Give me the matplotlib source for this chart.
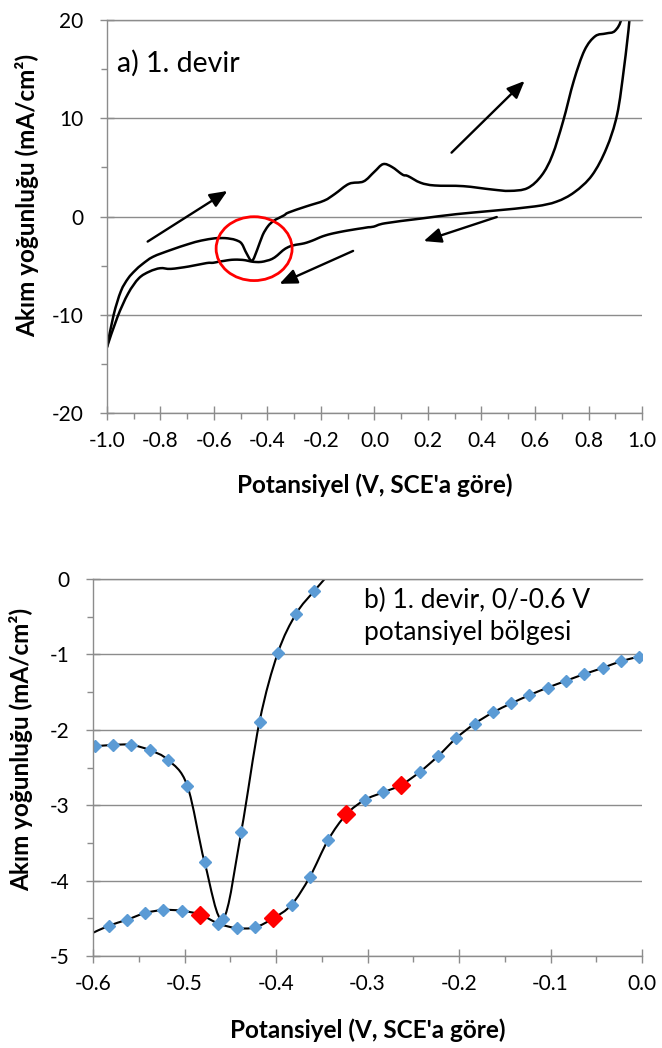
# -*- coding: utf-8 -*-
import numpy as np
import matplotlib
matplotlib.use('Agg')
import matplotlib.pyplot as plt
from matplotlib.path import Path
from matplotlib.patches import PathPatch, Ellipse
from matplotlib.ticker import FixedLocator, MultipleLocator

plt.rcParams['font.family'] = ['Lato', 'DejaVu Sans']

# --- b) 1. devir, 0/-0.6 V bolgesi (read off the picture) ---
fwd_b_x = [-0.598, -0.578, -0.558, -0.538, -0.518, -0.497, -0.478, -0.458,
           -0.438, -0.418, -0.398, -0.378, -0.358, -0.338]
fwd_b_y = [-2.22, -2.20, -2.20, -2.27, -2.40, -2.74, -3.76, -4.51,
           -3.35, -1.89, -0.98, -0.46, -0.155, 0.12]
rev_b_x = [-0.003, -0.023, -0.043, -0.063, -0.083, -0.103, -0.123, -0.143,
           -0.163, -0.183, -0.203, -0.223, -0.243, -0.263, -0.283, -0.303,
           -0.323, -0.343, -0.363, -0.383, -0.403, -0.423, -0.443, -0.463,
           -0.483, -0.503, -0.523, -0.543, -0.563, -0.583, -0.603]
rev_b_y = [-1.03, -1.09, -1.18, -1.26, -1.35, -1.44, -1.54, -1.65,
           -1.77, -1.92, -2.11, -2.35, -2.56, -2.73, -2.83, -2.93,
           -3.12, -3.46, -3.95, -4.32, -4.50, -4.62, -4.63, -4.57,
           -4.45, -4.40, -4.39, -4.43, -4.52, -4.60, -4.71]
red_b_x = [-0.483, -0.403, -0.323, -0.263]
red_b_y = [-4.45, -4.50, -3.12, -2.73]

# --- a) 1. devir, full window; middle part shared with panel b ---
fwd_lo_x = [-1.0, -0.975, -0.948, -0.921, -0.895, -0.868, -0.828, -0.761,
            -0.695, -0.648]
fwd_lo_y = [-13.3, -10.0, -7.6, -6.3, -5.5, -4.85, -4.1, -3.4, -2.8, -2.45]
fwd_hi_x = [-0.321, -0.255, -0.188, -0.148, -0.095, -0.041, -0.001, 0.032,
            0.065, 0.105, 0.125, 0.172, 0.225, 0.332, 0.439, 0.505, 0.572,
            0.625, 0.665, 0.705, 0.745, 0.785, 0.825, 0.865, 0.899, 0.925,
            0.945]
fwd_hi_y = [0.41, 1.03, 1.62, 2.30, 3.33, 3.57, 4.54, 5.33,
            5.05, 4.26, 4.12, 3.44, 3.16, 3.09, 2.75, 2.61, 2.89,
            4.19, 6.25, 9.69, 13.81, 16.91, 18.35, 18.63, 18.9, 20.3,
            24.0]
rev_hi_x = [0.958, 0.953, 0.933, 0.907, 0.867, 0.813, 0.747, 0.680, 0.600,
            0.440, 0.306, 0.173, 0.039]
rev_hi_y = [23.0, 20.0, 15.19, 10.38, 6.94, 4.19, 2.47, 1.51, 1.03,
            0.58, 0.24, -0.21, -0.69]
rev_lo_x = [-0.628, -0.695, -0.761, -0.801, -0.841, -0.881, -0.921, -0.961,
            -1.0]
rev_lo_y = [-4.74, -5.09, -5.33, -5.26, -5.60, -6.29, -7.84, -10.24, -13.3]

xticks_a = [-1.0, -0.8, -0.6, -0.4, -0.2, 0.0, 0.2, 0.4, 0.6, 0.8, 1.0]
yticks_a = [-20, -10, 0, 10, 20]
xticks_b = [-0.6, -0.5, -0.4, -0.3, -0.2, -0.1, 0.0]
yticks_b = [-5, -4, -3, -2, -1, 0]

GRAY = '#8c8c8c'
BLUE = '#5b9bd5'


def smooth_path(x, y):
    # Excel-like smoothed line: Catmull-Rom segments as cubic Bezier curves
    p = np.column_stack([x, y]).astype(float)
    ext = np.vstack([p[0], p, p[-1]])
    verts = [p[0]]
    codes = [Path.MOVETO]
    for i in range(1, len(ext) - 2):
        p0, p1, p2, p3 = ext[i - 1], ext[i], ext[i + 1], ext[i + 2]
        verts += [p1 + (p2 - p0) / 6.0, p2 - (p3 - p1) / 6.0, p2]
        codes += [Path.CURVE4] * 3
    return Path(verts, codes)


def style_axes(ax, xticks, xminor, yticks, yminor):
    ax.set_xlim(xticks[0], xticks[-1])
    ax.set_ylim(yticks[0], yticks[-1])
    ax.xaxis.set_major_locator(FixedLocator(xticks))
    ax.yaxis.set_major_locator(FixedLocator(yticks))
    ax.xaxis.set_minor_locator(MultipleLocator(xminor))
    ax.yaxis.set_minor_locator(MultipleLocator(yminor))
    ax.set_xticklabels(['%.1f' % v for v in xticks])
    ax.set_yticklabels(['%d' % v for v in yticks])
    ax.spines['right'].set_visible(False)
    for s in ['left', 'bottom', 'top']:
        ax.spines[s].set_color(GRAY)
        ax.spines[s].set_linewidth(1.0)
    ax.grid(axis='y', which='major', color=GRAY, lw=1.0)
    ax.set_axisbelow(True)
    ax.tick_params(which='major', direction='inout', length=10, width=1,
                   color=GRAY, labelsize=15, labelcolor='black')
    ax.tick_params(axis='y', which='major', pad=12)
    ax.tick_params(axis='x', which='major', pad=8)
    ax.tick_params(which='minor', direction='out', length=4.5, width=1,
                   color=GRAY)


fig = plt.figure(figsize=(6.62, 10.48), dpi=100)

# ---------------- panel a ----------------
ax = fig.add_axes([0.1616, 0.6059, 0.8082, 0.375])
style_axes(ax, xticks_a, 0.1, yticks_a, 5)

fwd_a_x = fwd_lo_x + fwd_b_x + fwd_hi_x
fwd_a_y = fwd_lo_y + fwd_b_y + fwd_hi_y
rev_a_x = rev_hi_x + rev_b_x + rev_lo_x
rev_a_y = rev_hi_y + rev_b_y + rev_lo_y
for xs, ys in [(fwd_a_x, fwd_a_y), (rev_a_x, rev_a_y)]:
    ax.add_patch(PathPatch(smooth_path(xs, ys), fill=False, ec='black',
                           lw=1.8, capstyle='round', joinstyle='round'))

ax.add_patch(Ellipse((-0.45, -3.27), 0.284, 6.5, fill=False, ec='red',
                     lw=2.0))
for tail, head in [((-0.848, -2.55), (-0.55, 2.6)),
                   ((0.288, 6.5), (0.561, 13.8)),
                   ((0.457, -0.05), (0.184, -2.5)),
                   ((-0.08, -3.5), (-0.355, -6.85))]:
    ax.annotate('', xy=head, xytext=tail,
                arrowprops=dict(arrowstyle='-|>,head_length=0.7,head_width=0.3',
                                color='black', lw=1.7, shrinkA=0, shrinkB=0,
                                mutation_scale=15))
ax.text(-0.964, 14.74, 'a) 1. devir', fontsize=20.5, va='baseline')

# ---------------- panel b ----------------
bx = fig.add_axes([0.1405, 0.0878, 0.8293, 0.3597])
style_axes(bx, xticks_b, 0.05, yticks_b, 0.5)

for xs, ys in [(fwd_b_x, fwd_b_y), (rev_b_x, rev_b_y)]:
    bx.add_patch(PathPatch(smooth_path(xs, ys), fill=False, ec='black',
                           lw=1.5, capstyle='round', joinstyle='round'))
bx.plot(fwd_b_x[:-1], fwd_b_y[:-1], 'D', color=BLUE, ms=6.5, ls='none')
bx.plot(rev_b_x[:-1], rev_b_y[:-1], 'D', color=BLUE, ms=6.5, ls='none')
bx.plot(red_b_x, red_b_y, 'D', color='red', ms=9, ls='none')
bx.text(-0.304, -0.389, 'b) 1. devir, 0/-0.6 V', fontsize=19, va='baseline')
bx.text(-0.304, -0.81, 'potansiyel bölgesi', fontsize=19, va='baseline')

# axis titles
ylab = 'Akım yoğunluğu (mA/cm²)'
xlab = "Potansiyel (V, SCE'a göre)"
fig.text(27 / 662, 1 - 195 / 1048, ylab, rotation=90, ha='center',
         va='center', fontsize=17.5, fontweight='bold')
fig.text(21 / 662, 1 - 749 / 1048, ylab, rotation=90, ha='center',
         va='center', fontsize=17.5, fontweight='bold')
fig.text(374.5 / 662, 1 - 485 / 1048, xlab, ha='center', va='center',
         fontsize=17.5, fontweight='bold')
fig.text(367.5 / 662, 1 - 1030 / 1048, xlab, ha='center', va='center',
         fontsize=17.5, fontweight='bold')

fig.savefig('out.png', dpi=100)
